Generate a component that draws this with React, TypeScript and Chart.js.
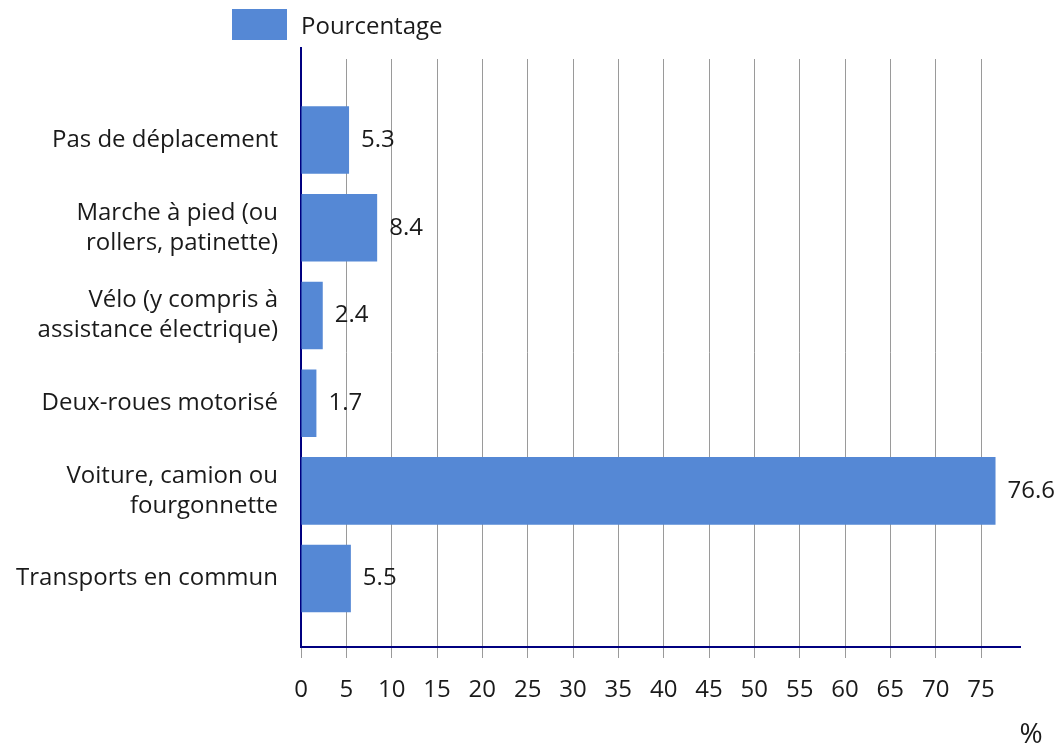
import { useEffect, useRef } from 'react';
import { Chart, registerables } from 'chart.js';

Chart.register(...registerables);

const CATEGORIES: (string | string[])[] = [
  'Pas de déplacement',
  ['Marche à pied (ou', 'rollers, patinette)'],
  ['Vélo (y compris à', 'assistance électrique)'],
  'Deux-roues motorisé',
  ['Voiture, camion ou', 'fourgonnette'],
  'Transports en commun',
];
const VALUES = [5.3, 8.4, 2.4, 1.7, 76.6, 5.5];
const X_TICKS = [0, 5, 10, 15, 20, 25, 30, 35, 40, 45, 50, 55, 60, 65, 70, 75];
const SERIES_LABEL = 'Pourcentage';
const AXIS_UNIT = '%';

const FONT_FAMILY = '"Open Sans", "Noto Sans", sans-serif';
const FONT_SIZE = 24;
const BAR_COLOR = '#5588d5';
const AXIS_COLOR = '#000080';
const GRID_COLOR = 'rgba(120,120,120,0.75)';
const TEXT_COLOR = '#1a1a1a';

export default function App() {
  const canvasRef = useRef<HTMLCanvasElement | null>(null);

  useEffect(() => {
    let chart: Chart | null = null;
    let cancelled = false;

    const build = () => {
      if (cancelled || !canvasRef.current) return;
      const extras = {
        id: 'extras',
        afterDatasetsDraw(c: any) {
          const ctx = c.ctx;
          const meta = c.getDatasetMeta(0);
          ctx.save();
          ctx.font = `${FONT_SIZE}px ${FONT_FAMILY}`;
          ctx.fillStyle = TEXT_COLOR;
          ctx.textAlign = 'left';
          ctx.textBaseline = 'middle';
          meta.data.forEach((bar: any, i: number) => {
            ctx.fillText(String(VALUES[i]), bar.x + 12, bar.y);
          });
          ctx.restore();
        },
        afterDraw(c: any) {
          const ctx = c.ctx;
          const area = c.chartArea;
          ctx.save();
          // y-axis line continues a little above the plot area
          ctx.strokeStyle = AXIS_COLOR;
          ctx.lineWidth = 2;
          ctx.beginPath();
          ctx.moveTo(area.left, area.top - 12);
          ctx.lineTo(area.left, area.top);
          ctx.stroke();
          // legend
          ctx.fillStyle = BAR_COLOR;
          ctx.fillRect(area.left - 69, 9, 55, 31);
          ctx.font = `${FONT_SIZE}px ${FONT_FAMILY}`;
          ctx.fillStyle = TEXT_COLOR;
          ctx.textAlign = 'left';
          ctx.textBaseline = 'middle';
          ctx.fillText(SERIES_LABEL, area.left, 27);
          // axis unit
          ctx.font = `28px ${FONT_FAMILY}`;
          ctx.textAlign = 'center';
          ctx.fillText(AXIS_UNIT, area.right + 11, 735);
          ctx.restore();
        },
      };

      chart = new Chart(canvasRef.current, {
        type: 'bar',
        data: {
          datasets: [
            {
              label: SERIES_LABEL,
              data: VALUES.map((v, i) => ({ x: v, y: i })),
              backgroundColor: BAR_COLOR,
              borderWidth: 0,
              categoryPercentage: 1,
              barPercentage: 0.77,
            },
          ],
        },
        options: {
          indexAxis: 'y',
          responsive: false,
          animation: false,
          layout: { padding: { top: 59, right: 40, left: 0, bottom: 0 } },
          plugins: {
            legend: { display: false },
            tooltip: { enabled: false },
          },
          scales: {
            x: {
              type: 'linear',
              min: 0,
              max: 79.3,
              z: 1,
              offset: false,
              afterBuildTicks: (scale: any) => {
                scale.ticks = X_TICKS.map((v) => ({ value: v }));
              },
              afterFit: (scale: any) => {
                scale.height = 102;
              },
              grid: {
                color: GRID_COLOR,
                tickColor: GRID_COLOR,
                lineWidth: 1,
                drawTicks: true,
                tickLength: 11,
                offset: false,
              },
              border: { display: true, color: AXIS_COLOR, width: 2 },
              ticks: {
                autoSkip: false,
                maxRotation: 0,
                padding: 18,
                color: TEXT_COLOR,
                font: { family: FONT_FAMILY, size: FONT_SIZE },
              },
            },
            y: {
              type: 'linear',
              reverse: true,
              min: -0.924,
              max: 5.78,
              z: 2,
              offset: false,
              afterBuildTicks: (scale: any) => {
                scale.ticks = CATEGORIES.map((_, i) => ({ value: i }));
              },
              afterFit: (scale: any) => {
                scale.width = 301;
              },
              grid: { display: false, drawTicks: false, tickLength: 0, offset: false },
              border: { display: true, color: AXIS_COLOR, width: 2 },
              ticks: {
                autoSkip: false,
                padding: 23,
                color: TEXT_COLOR,
                font: { family: FONT_FAMILY, size: FONT_SIZE, lineHeight: 1.25 },
                callback: (value: any) => CATEGORIES[Number(value)] as any,
              },
            },
          },
        } as any,
        plugins: [extras],
      });
    };

    const fontsReady = (document as any).fonts
      ? Promise.all([
          (document as any).fonts.load(`${FONT_SIZE}px "Open Sans"`),
        ]).catch(() => undefined)
      : Promise.resolve();
    fontsReady.then(build);

    return () => {
      cancelled = true;
      if (chart) chart.destroy();
    };
  }, []);

  return (
    <div style={{ position: 'absolute', left: 0, top: 0, width: 1060, height: 749 }}>
      <canvas ref={canvasRef} width={1060} height={749} style={{ width: 1060, height: 749 }} />
    </div>
  );
}
